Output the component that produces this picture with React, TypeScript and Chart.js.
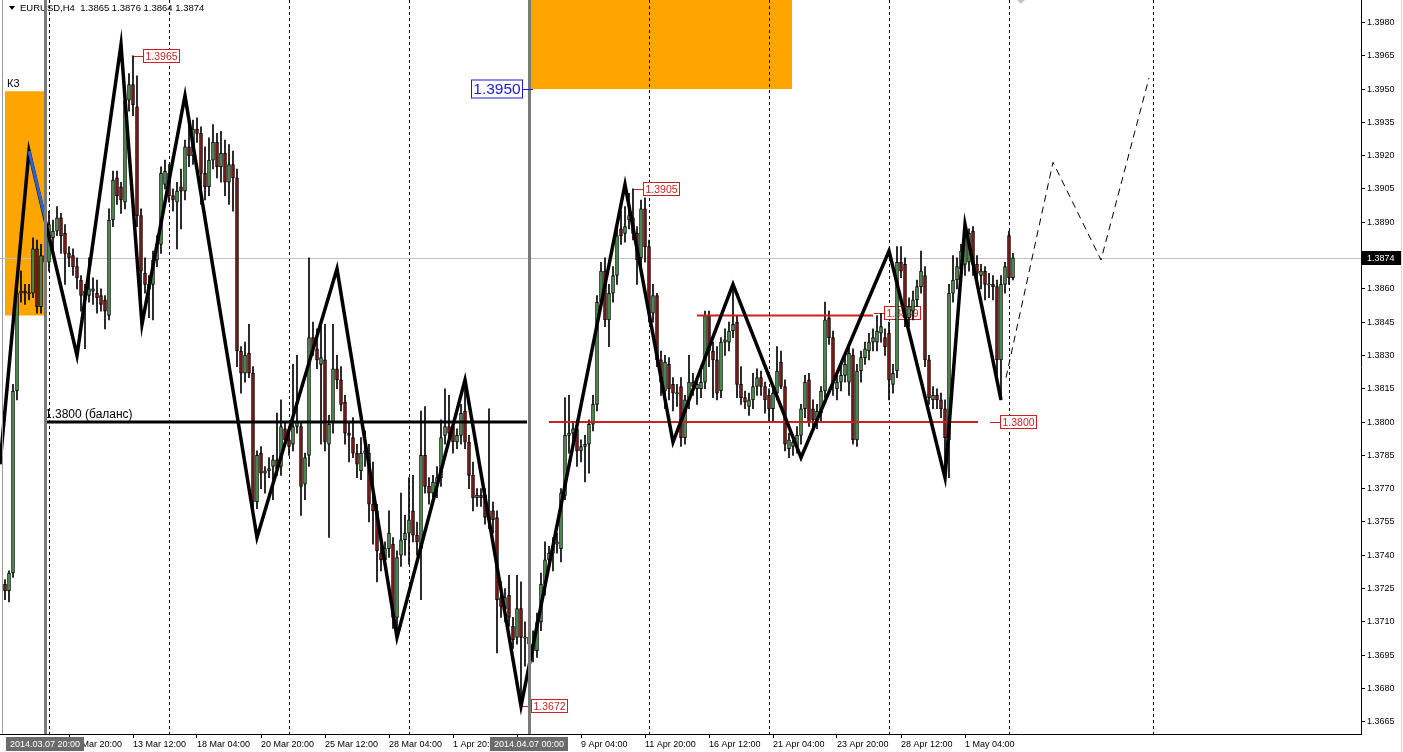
import React, { useEffect, useRef } from "react";
import { Chart, registerables } from "chart.js";
Chart.register(...registerables);

// ---------- DATA ----------
const symbolTitle = "EURUSD,H4";

// OHLC of the H4 bars (bar index 0 = first visible bar; 10 = 2014.03.07 20:00, 131 = 2014.04.07 00:00)
const opens = [
  1.3727, 1.3724, 1.3732, 1.3814, 1.3858, 1.3859, 1.3858, 1.3858, 1.3878, 1.3852,
  1.3875, 1.3872, 1.3883, 1.3886, 1.3892, 1.3885, 1.3876, 1.3875, 1.387, 1.3864,
  1.3856, 1.3857, 1.3859, 1.3858, 1.3857, 1.3855, 1.3848, 1.3891, 1.391, 1.3906,
  1.3899, 1.3945, 1.3952, 1.3942, 1.3893, 1.3867, 1.3862, 1.3862, 1.3873, 1.388,
  1.3907, 1.3912, 1.3902, 1.3899, 1.3906, 1.3904, 1.3924, 1.392, 1.3932, 1.393,
  1.3912, 1.3906, 1.3918, 1.3926, 1.3915, 1.3921, 1.3908, 1.3916, 1.391, 1.3832,
  1.3822, 1.3831, 1.3822, 1.3764, 1.3786, 1.3777, 1.3778, 1.378, 1.3783, 1.378,
  1.3797, 1.3792, 1.379, 1.3798, 1.3798, 1.3772, 1.3785, 1.3838, 1.3833, 1.3826,
  1.3828, 1.379, 1.38, 1.3824, 1.3819, 1.3809, 1.3795, 1.3793, 1.3786, 1.3778,
  1.3786, 1.3786, 1.3763, 1.376, 1.3741, 1.3738, 1.3743, 1.3745, 1.3712, 1.374,
  1.3747, 1.375, 1.376, 1.3749, 1.3743, 1.3785, 1.3771, 1.3768, 1.3772, 1.3775,
  1.3794, 1.3798, 1.3798, 1.3791, 1.3794, 1.3805, 1.3791, 1.3776, 1.3766, 1.3767,
  1.3767, 1.3756, 1.376, 1.3757, 1.3721, 1.3716, 1.3722, 1.3708, 1.3703, 1.3716,
  1.3703, 1.3703, 1.37, 1.3697, 1.371, 1.3727, 1.3738, 1.3741, 1.3745, 1.3743,
  1.3767, 1.3794, 1.3795, 1.3797, 1.3787, 1.3789, 1.379, 1.3799, 1.3808, 1.3854,
  1.3868, 1.3846, 1.3858, 1.3866, 1.3887, 1.3885, 1.3891, 1.3892, 1.3885, 1.3874,
  1.3896, 1.3879, 1.3849, 1.3857, 1.3828, 1.3814, 1.3826, 1.3817, 1.3813, 1.3816,
  1.3793, 1.381, 1.3818, 1.3815, 1.3815, 1.3818, 1.3848, 1.3832, 1.3828, 1.3814,
  1.3836, 1.3836, 1.3841, 1.3845, 1.3817, 1.3811, 1.3807, 1.381, 1.3816, 1.382,
  1.3816, 1.3812, 1.3806, 1.3813, 1.3827, 1.3816, 1.3788, 1.3789, 1.3789, 1.3794,
  1.3806, 1.3819, 1.3806, 1.3801, 1.3804, 1.3814, 1.3847, 1.3838, 1.3815, 1.3818,
  1.3821, 1.3818, 1.383, 1.3792, 1.3823, 1.3829, 1.3832, 1.3836, 1.3836, 1.384,
  1.3838, 1.384, 1.3817, 1.3823, 1.3872, 1.3871, 1.3847, 1.385, 1.3855, 1.3861,
  1.3866, 1.3828, 1.381, 1.3812, 1.381, 1.3806, 1.3792, 1.3858, 1.3864, 1.3869,
  1.3871, 1.3872, 1.3886, 1.3871, 1.3866, 1.3868, 1.3862, 1.3862, 1.3861, 1.3828,
  1.3862, 1.3884, 1.3865,
];
const highs = [
  1.3729, 1.3733, 1.3817, 1.386, 1.3868, 1.3862, 1.3862, 1.3883, 1.3882, 1.388,
  1.3885, 1.3895, 1.3891, 1.3897, 1.3894, 1.3889, 1.3879, 1.3878, 1.3874, 1.3866,
  1.3862, 1.3874, 1.3865, 1.3864, 1.386, 1.3857, 1.3896, 1.3913, 1.3913, 1.3908,
  1.395, 1.3957, 1.3965, 1.3956, 1.3896, 1.3874, 1.3866, 1.3877, 1.3884, 1.3915,
  1.3918, 1.3916, 1.3905, 1.3908, 1.3914, 1.3927, 1.3935, 1.3936, 1.3937, 1.3933,
  1.3924, 1.3928, 1.3934, 1.393, 1.3931, 1.3927, 1.3925, 1.3922, 1.3914, 1.3834,
  1.3836, 1.3844, 1.3825, 1.3787, 1.3789, 1.378, 1.3784, 1.3785, 1.3804, 1.381,
  1.38, 1.3797, 1.3826, 1.383, 1.38, 1.3786, 1.3874, 1.3845, 1.3842, 1.3846,
  1.3844, 1.3803, 1.3844, 1.383, 1.3825, 1.3812, 1.38, 1.3802, 1.379, 1.3793,
  1.3796, 1.379, 1.3782, 1.3763, 1.3745, 1.3746, 1.376, 1.3748, 1.3742, 1.3768,
  1.3758, 1.3775, 1.3776, 1.3755, 1.3805, 1.3807, 1.3775, 1.3776, 1.378, 1.3801,
  1.3815, 1.3812, 1.38, 1.3797, 1.3808, 1.3818, 1.3794, 1.3782, 1.377, 1.377,
  1.377, 1.3806, 1.3764, 1.376, 1.3728, 1.3725, 1.3731, 1.3712, 1.3731, 1.3728,
  1.371, 1.3712, 1.3706, 1.3714, 1.3732, 1.3746, 1.3744, 1.3748, 1.375, 1.377,
  1.3811, 1.3812, 1.38, 1.3801, 1.3792, 1.3794, 1.3801, 1.3812, 1.3857, 1.3872,
  1.3874, 1.3862, 1.387, 1.3887, 1.3895, 1.3897, 1.3903, 1.3905, 1.3888, 1.39,
  1.3901, 1.3882, 1.3862, 1.3858, 1.3832, 1.383, 1.3829, 1.382, 1.3817, 1.382,
  1.3812, 1.383, 1.3822, 1.382, 1.3823, 1.385, 1.385, 1.3836, 1.3834, 1.3838,
  1.3842, 1.3845, 1.3861, 1.3848, 1.3825, 1.3814, 1.3813, 1.3822, 1.3824, 1.3823,
  1.3818, 1.3815, 1.3816, 1.3834, 1.3832, 1.3819, 1.3795, 1.3794, 1.3798, 1.3808,
  1.3821, 1.3822, 1.381, 1.3808, 1.3816, 1.3854, 1.385, 1.3841, 1.3822, 1.3826,
  1.383, 1.3835, 1.3833, 1.3826, 1.3832, 1.3836, 1.384, 1.3842, 1.3848, 1.3849,
  1.3842, 1.3845, 1.3826, 1.3879, 1.3879, 1.3874, 1.3856, 1.3859, 1.3864, 1.3877,
  1.387, 1.383, 1.3816, 1.3815, 1.3813, 1.381, 1.3862, 1.3875, 1.3874, 1.388,
  1.3889, 1.3887, 1.3888, 1.3875, 1.3871, 1.387, 1.3867, 1.3866, 1.3864, 1.3866,
  1.3872, 1.3886, 1.3876,
];
const lows = [
  1.372, 1.3719, 1.373, 1.381, 1.3854, 1.3853, 1.3855, 1.3856, 1.3849, 1.3849,
  1.3865, 1.3868, 1.3876, 1.3884, 1.3876, 1.3862, 1.387, 1.3866, 1.386, 1.385,
  1.3833, 1.3854, 1.3853, 1.3849, 1.385, 1.3842, 1.3846, 1.3888, 1.3898, 1.3894,
  1.3896, 1.394, 1.3938, 1.3888, 1.385, 1.3858, 1.3847, 1.3846, 1.387, 1.3876,
  1.3905, 1.3899, 1.3895, 1.3878, 1.3887, 1.39, 1.3915, 1.3916, 1.3926, 1.3898,
  1.39, 1.3902, 1.3914, 1.391, 1.3908, 1.3902, 1.3898, 1.3895, 1.3825, 1.3813,
  1.3818, 1.382, 1.3762, 1.3761, 1.377, 1.3768, 1.3775, 1.3765, 1.3776, 1.3776,
  1.3789, 1.3785, 1.3787, 1.3795, 1.3758, 1.3765, 1.378, 1.383, 1.3824, 1.379,
  1.3787, 1.3748, 1.3795, 1.3815, 1.3805, 1.379, 1.3782, 1.3784, 1.3775, 1.3774,
  1.378, 1.3755, 1.3745, 1.3728, 1.3733, 1.3735, 1.3739, 1.3707, 1.3703, 1.3735,
  1.374, 1.3736, 1.3746, 1.374, 1.372, 1.3768, 1.3763, 1.3764, 1.3766, 1.3771,
  1.379, 1.3793, 1.3786, 1.3788, 1.379, 1.3788, 1.377, 1.376, 1.3762, 1.3762,
  1.3754, 1.3752, 1.375, 1.3696, 1.3712, 1.371, 1.3708, 1.3698, 1.37, 1.3672,
  1.369, 1.3694, 1.3692, 1.3694, 1.3706, 1.3722, 1.3735, 1.3733, 1.3741, 1.3737,
  1.3765, 1.3786, 1.379, 1.378, 1.3782, 1.3773, 1.3777, 1.3796, 1.3805, 1.3851,
  1.3843, 1.3834, 1.3854, 1.3862, 1.388, 1.3881, 1.3887, 1.3882, 1.3862, 1.387,
  1.3872, 1.3845, 1.3845, 1.3825, 1.3812, 1.3806, 1.381, 1.3805, 1.3807, 1.3789,
  1.379, 1.3806, 1.3812, 1.3808, 1.3811, 1.3815, 1.3825, 1.3811, 1.381, 1.3811,
  1.383, 1.3832, 1.3838, 1.3811, 1.3808, 1.3806, 1.3803, 1.3806, 1.3812, 1.3812,
  1.3804, 1.38, 1.38, 1.381, 1.3815, 1.3787, 1.3784, 1.3785, 1.3786, 1.379,
  1.3802, 1.3798, 1.3797, 1.3797, 1.38, 1.3811, 1.3835, 1.3812, 1.381, 1.3814,
  1.3818, 1.3812, 1.379, 1.3789, 1.3818, 1.3826, 1.3828, 1.3832, 1.3832, 1.3836,
  1.383, 1.381, 1.3813, 1.382, 1.3865, 1.3843, 1.3843, 1.3846, 1.3852, 1.3858,
  1.3825, 1.3808, 1.3806, 1.3806, 1.3802, 1.3775, 1.3775, 1.3854, 1.386, 1.3864,
  1.3866, 1.3868, 1.3866, 1.3863, 1.386, 1.3855, 1.3856, 1.3855, 1.3818, 1.381,
  1.3858, 1.3862, 1.3864,
];
const closes = [
  1.3724, 1.3732, 1.3814, 1.3858, 1.3859, 1.3858, 1.3858, 1.3878, 1.3852, 1.3875,
  1.3872, 1.3889, 1.3886, 1.3892, 1.3884, 1.3876, 1.3874, 1.387, 1.3865, 1.3857,
  1.3859, 1.386, 1.386, 1.3856, 1.3853, 1.385, 1.3891, 1.3909, 1.3902, 1.39,
  1.3945, 1.3952, 1.3943, 1.3893, 1.3868, 1.3862, 1.386, 1.3873, 1.388, 1.3912,
  1.3913, 1.3902, 1.39, 1.3904, 1.3904, 1.3924, 1.392, 1.3932, 1.393, 1.3912,
  1.3906, 1.3918, 1.3926, 1.3915, 1.3921, 1.3908, 1.3916, 1.391, 1.3832, 1.3822,
  1.383, 1.3822, 1.3764, 1.3785, 1.3777, 1.3778, 1.3779, 1.3783, 1.3779, 1.3798,
  1.3792, 1.3789, 1.3798, 1.38, 1.3771, 1.3784, 1.3838, 1.3833, 1.3828, 1.3829,
  1.3791, 1.3799, 1.3824, 1.3819, 1.3808, 1.3795, 1.3794, 1.3786, 1.3781, 1.3786,
  1.3787, 1.3763, 1.376, 1.3742, 1.3738, 1.3743, 1.375, 1.3712, 1.3739, 1.3747,
  1.375, 1.3756, 1.3749, 1.3746, 1.3785, 1.3771, 1.3768, 1.3773, 1.3775, 1.3793,
  1.3798, 1.3795, 1.3791, 1.3794, 1.3804, 1.3791, 1.3776, 1.3766, 1.3767, 1.3766,
  1.3757, 1.376, 1.3756, 1.372, 1.3717, 1.3721, 1.3712, 1.3702, 1.3716, 1.3703,
  1.3703, 1.37, 1.3697, 1.371, 1.3727, 1.3738, 1.3741, 1.3744, 1.3746, 1.3768,
  1.3794, 1.3795, 1.3797, 1.3787, 1.3789, 1.379, 1.3799, 1.3808, 1.3854, 1.3868,
  1.3846, 1.3858, 1.3866, 1.3884, 1.3884, 1.3888, 1.3893, 1.3885, 1.3873, 1.3896,
  1.3879, 1.3849, 1.3857, 1.3828, 1.3818, 1.3827, 1.3815, 1.3813, 1.3813, 1.3793,
  1.381, 1.3818, 1.3816, 1.3817, 1.3818, 1.3848, 1.3832, 1.3828, 1.3813, 1.3836,
  1.3837, 1.3841, 1.3844, 1.3817, 1.3811, 1.3809, 1.381, 1.3816, 1.382, 1.3816,
  1.381, 1.3806, 1.3813, 1.3823, 1.3816, 1.379, 1.3792, 1.3791, 1.3794, 1.3806,
  1.3818, 1.38, 1.3801, 1.3805, 1.3814, 1.3846, 1.3838, 1.3818, 1.3818, 1.3821,
  1.3826, 1.3831, 1.3792, 1.3823, 1.3829, 1.3833, 1.3836, 1.3838, 1.3841, 1.3843,
  1.3834, 1.3819, 1.3822, 1.3872, 1.3868, 1.3847, 1.3852, 1.3855, 1.3861, 1.3868,
  1.3828, 1.3811, 1.3812, 1.381, 1.3806, 1.3793, 1.3858, 1.3864, 1.387, 1.3877,
  1.3885, 1.3885, 1.3871, 1.3867, 1.3868, 1.3862, 1.3862, 1.3861, 1.3828, 1.3862,
  1.387, 1.3865, 1.3874,
];

// Time axis (bar index -> label)
const xTickIdx = [16, 32, 48, 64, 80, 96, 112, 128, 144, 160, 176, 192, 208, 224, 240];
const xTickLabels = [
  "10 Mar 20:00", "13 Mar 12:00", "18 Mar 04:00", "20 Mar 20:00", "25 Mar 12:00",
  "28 Mar 04:00", "1 Apr 20:00", "4 Apr 12:00", "9 Apr 04:00", "11 Apr 20:00",
  "16 Apr 12:00", "21 Apr 04:00", "23 Apr 20:00", "28 Apr 12:00", "1 May 04:00",
];
const weekGridIdx = [11, 41, 71, 101, 131, 161, 191, 221, 251, 287];
const yTickList = [
  1.3665, 1.368, 1.3695, 1.371, 1.3725, 1.374, 1.3755, 1.377, 1.3785, 1.38, 1.3815,
  1.383, 1.3845, 1.386, 1.389, 1.3905, 1.392, 1.3935, 1.395, 1.3965, 1.398,
];
const priceMin = 1.36595;
const priceMax = 1.39901;
const barMin = -1.25;
const barMax = 339;

// Drawn objects
const zigzagPts: [number, number][] = [
  [-1.25, 1.3781], [6, 1.3922], [18, 1.383], [29, 1.397], [34.25, 1.3844], [45, 1.3947],
  [63, 1.3748], [83, 1.3869], [98, 1.3703], [115, 1.3819], [129, 1.3672], [155, 1.3907],
  [167, 1.3791], [182, 1.3862], [199, 1.3784], [221, 1.3877], [235, 1.3775], [240, 1.3889],
  [249, 1.381],
];
const blueSegment: [number, number][] = [[6, 1.3922], [10, 1.3892]];
const projection: [number, number][] = [[250.25, 1.382], [262, 1.3917], [274, 1.3873], [286, 1.3955]];
const balanceLine: [number, number][] = [[10, 1.38], [130.5, 1.38]];
const redLow: [number, number][] = [[136, 1.38], [243.25, 1.38]];
const redHigh: [number, number][] = [[173, 1.3848], [217, 1.3848]];
const orangeZones = [
  { x0: 0, x1: 10, yTop: 1.3949, yBot: 1.3848 },
  { x0: 131.5, x1: 196.75, yTop: 1.401, yBot: 1.395 },
];
const vLines = [
  { idx: 10, label: "2014.03.07 20:00" },
  { idx: 131, label: "2014.04.07 00:00" },
];
const priceTags = [
  { idx: 32, price: 1.3965 },
  { idx: 157, price: 1.3905 },
  { idx: 129, price: 1.3672 },
  { idx: 217.25, price: 1.3849 },
  { idx: 246.25, price: 1.38 },
];
const blueTag = { idx: 131.5, price: 1.395 };
const balanceText = { idx: 10, price: 1.38, text: "1.3800 (баланс)" };
const zoneText = { idx: 0.5, price: 1.3949, text: "К3" };
const bidPrice = closes[closes.length - 1];
const arrowMark = { idx: 254, price: 1.3991 };

// ---------- STYLE ----------
const FONT = "'Liberation Sans', Arial, sans-serif";
const BULL = "#5b9e5b";
const BEAR = "#8e1b1b";
const RED = "#cc1f1f";

const mt4Plugin = {
  id: "mt4Objects",
  beforeDraw(chart: any) {
    const { ctx, width, height } = chart;
    ctx.save();
    ctx.fillStyle = "#ffffff";
    ctx.fillRect(0, 0, width, height);
    ctx.restore();
  },
  beforeDatasetsDraw(chart: any) {
    const { ctx, chartArea, scales } = chart;
    const xs = scales.x, ys = scales.y;
    const { left, right, top, bottom } = chartArea;
    ctx.save();
    ctx.beginPath();
    ctx.rect(left, top, right - left, bottom - top);
    ctx.clip();
    // orange zones
    ctx.fillStyle = "#ffa500";
    orangeZones.forEach((z) => {
      const x0 = xs.getPixelForValue(z.x0), x1 = xs.getPixelForValue(z.x1);
      const y0 = ys.getPixelForValue(z.yTop), y1 = ys.getPixelForValue(z.yBot);
      ctx.fillRect(x0, y0, x1 - x0, y1 - y0);
    });
    // weekly dashed grid
    ctx.strokeStyle = "#000";
    ctx.lineWidth = 1;
    ctx.setLineDash([3, 3]);
    weekGridIdx.forEach((i) => {
      const x = Math.round(xs.getPixelForValue(i)) + 0.5;
      ctx.beginPath();
      ctx.moveTo(x, top);
      ctx.lineTo(x, bottom);
      ctx.stroke();
    });
    ctx.setLineDash([]);
    // bid line
    const by = Math.round(ys.getPixelForValue(bidPrice)) + 0.5;
    ctx.strokeStyle = "#c0c0c0";
    ctx.beginPath();
    ctx.moveTo(left, by);
    ctx.lineTo(right, by);
    ctx.stroke();
    // header
    ctx.fillStyle = "#000";
    ctx.beginPath();
    ctx.moveTo(9, 6);
    ctx.lineTo(15, 6);
    ctx.lineTo(12, 10);
    ctx.closePath();
    ctx.fill();
    ctx.font = `9.5px ${FONT}`;
    ctx.textBaseline = "alphabetic";
    ctx.textAlign = "left";
    const last = closes.length - 1;
    ctx.fillText(
      `${symbolTitle}  ${opens[last].toFixed(4)} ${highs[last].toFixed(4)} ${lows[last].toFixed(4)} ${closes[last].toFixed(4)}`,
      20, 11
    );
    // zone text
    ctx.font = `11px ${FONT}`;
    ctx.fillText(zoneText.text, xs.getPixelForValue(zoneText.idx), ys.getPixelForValue(zoneText.price) - 4);
    // balance text
    ctx.font = `12px ${FONT}`;
    ctx.fillText(balanceText.text, xs.getPixelForValue(balanceText.idx), ys.getPixelForValue(balanceText.price) - 4);
    // red price tags
    ctx.font = `10.5px ${FONT}`;
    priceTags.forEach((t) => {
      const px = Math.round(xs.getPixelForValue(t.idx));
      const py = Math.round(ys.getPixelForValue(t.price));
      const gap = 10, bw = 37, bh = 14;
      ctx.strokeStyle = RED;
      ctx.lineWidth = 1;
      ctx.beginPath();
      ctx.moveTo(px, py + 0.5);
      ctx.lineTo(px + gap, py + 0.5);
      ctx.stroke();
      ctx.fillStyle = "#fff";
      ctx.fillRect(px + gap, py - bh / 2, bw, bh);
      ctx.strokeRect(px + gap + 0.5, py - bh / 2 + 0.5, bw - 1, bh - 1);
      ctx.fillStyle = RED;
      ctx.textAlign = "center";
      ctx.textBaseline = "middle";
      ctx.fillText(t.price.toFixed(4), px + gap + bw / 2, py + 1);
    });
    ctx.restore();
  },
  afterDatasetsDraw(chart: any) {
    const { ctx, chartArea, scales } = chart;
    const xs = scales.x;
    ctx.save();
    ctx.strokeStyle = "#7a7a7a";
    ctx.lineWidth = 3;
    vLines.forEach((v) => {
      const x = Math.round(xs.getPixelForValue(v.idx)) + 0.5;
      ctx.beginPath();
      ctx.moveTo(x, chartArea.top);
      ctx.lineTo(x, chartArea.bottom);
      ctx.stroke();
    });
    ctx.restore();
  },
  afterDraw(chart: any) {
    const { ctx, chartArea, scales, width } = chart;
    const xs = scales.x, ys = scales.y;
    ctx.save();
    // window frame lines
    ctx.strokeStyle = "#9a9a9a";
    ctx.lineWidth = 1;
    ctx.beginPath();
    ctx.moveTo(2.5, 0);
    ctx.lineTo(2.5, chartArea.bottom);
    ctx.stroke();
    ctx.strokeStyle = "#d8d8d8";
    ctx.beginPath();
    ctx.moveTo(width - 1.5, 0);
    ctx.lineTo(width - 1.5, chart.height);
    ctx.stroke();
    // blue tag
    {
      const px = Math.round(xs.getPixelForValue(blueTag.idx));
      const py = Math.round(ys.getPixelForValue(blueTag.price));
      const bw = 52, bh = 19, gap = 8;
      ctx.strokeStyle = "#1a1ac8";
      ctx.lineWidth = 1;
      ctx.beginPath();
      ctx.moveTo(px - gap, py + 0.5);
      ctx.lineTo(px + 2, py + 0.5);
      ctx.stroke();
      ctx.fillStyle = "#fff";
      ctx.fillRect(px - gap - bw, py - bh / 2, bw, bh);
      ctx.strokeRect(px - gap - bw + 0.5, py - bh / 2 + 0.5, bw - 1, bh - 1);
      ctx.fillStyle = "#1a1ac8";
      ctx.font = `15.5px ${FONT}`;
      ctx.textAlign = "center";
      ctx.textBaseline = "middle";
      ctx.fillText(blueTag.price.toFixed(4), px - gap - bw / 2, py + 1);
    }
    // arrow mark (grey diamond)
    {
      const ax = xs.getPixelForValue(arrowMark.idx), ay = ys.getPixelForValue(arrowMark.price);
      ctx.fillStyle = "#c4c4c4";
      ctx.beginPath();
      ctx.moveTo(ax, ay - 6);
      ctx.lineTo(ax + 6, ay);
      ctx.lineTo(ax, ay + 6);
      ctx.lineTo(ax - 6, ay);
      ctx.closePath();
      ctx.fill();
    }
    // bid box on price axis
    {
      const py = Math.round(ys.getPixelForValue(bidPrice));
      ctx.fillStyle = "#000";
      ctx.fillRect(chartArea.right + 1, py - 7, 39, 14);
      ctx.fillStyle = "#fff";
      ctx.font = `9px ${FONT}`;
      ctx.textAlign = "left";
      ctx.textBaseline = "middle";
      ctx.fillText(bidPrice.toFixed(4), chartArea.right + 6, py + 0.5);
    }
    // date boxes on time axis
    vLines.forEach((v) => {
      const x = xs.getPixelForValue(v.idx);
      const bw = 78;
      ctx.fillStyle = "#6b6b6b";
      ctx.fillRect(x - bw / 2, chartArea.bottom + 3, bw, 14);
      ctx.fillStyle = "#fff";
      ctx.font = `9px ${FONT}`;
      ctx.textAlign = "center";
      ctx.textBaseline = "middle";
      ctx.fillText(v.label, x, chartArea.bottom + 10.5);
    });
    ctx.restore();
  },
};

export default function App() {
  const ref = useRef<HTMLCanvasElement | null>(null);
  useEffect(() => {
    if (!ref.current) return;
    const pts = (a: [number, number][]) => a.map(([x, y]) => ({ x, y }));
    const bodies = closes.map((c, i) => {
      const o = opens[i];
      const lo = Math.min(o, c), hi = Math.max(o, c);
      const pad = hi - lo < 0.00005 ? 0.00003 : 0;
      return { x: i, y: [lo - pad, hi + pad] };
    });
    const lineDs = (label: string, data: [number, number][], color: string, w: number, order: number, dash: number[] = []) => ({
      type: "line" as const,
      label,
      data: pts(data),
      borderColor: color,
      borderWidth: w,
      borderDash: dash,
      pointRadius: 0,
      pointHoverRadius: 0,
      tension: 0,
      fill: false,
      order,
    });
    const chart = new Chart(ref.current, {
      type: "bar",
      data: {
        datasets: [
          lineDs("blue", blueSegment, "#2a62d8", 3, 1) as any,
          lineDs("zigzag", zigzagPts, "#000", 3.5, 2) as any,
          lineDs("projection", projection, "#000", 1, 2, [7, 5]) as any,
          lineDs("balance", balanceLine, "#000", 3, 3) as any,
          lineDs("level1", redLow, RED, 2, 3) as any,
          lineDs("level2", redHigh, RED, 2, 3) as any,
          {
            type: "bar",
            label: "bodies",
            data: bodies as any,
            backgroundColor: closes.map((c, i) => (c >= opens[i] ? BULL : BEAR)),
            borderColor: "#000",
            borderWidth: 1,
            borderSkipped: false,
            barThickness: 3,
            grouped: false,
            order: 4,
          } as any,
          {
            type: "bar",
            label: "wicks",
            data: highs.map((h, i) => ({ x: i, y: [lows[i], h] })) as any,
            backgroundColor: "#000",
            borderWidth: 0,
            barThickness: 1,
            grouped: false,
            order: 5,
          } as any,
        ],
      },
      options: {
        responsive: false,
        maintainAspectRatio: false,
        animation: false,
        devicePixelRatio: 1,
        events: [],
        layout: { padding: 0 },
        plugins: { legend: { display: false }, tooltip: { enabled: false }, title: { display: false } },
        scales: {
          x: {
            type: "linear",
            min: barMin,
            max: barMax,
            offset: false,
            afterBuildTicks: (s: any) => {
              s.ticks = xTickIdx.map((v) => ({ value: v }));
            },
            afterFit: (s: any) => {
              s.height = 18;
              s.paddingLeft = 0;
              s.paddingRight = 0;
            },
            ticks: {
              autoSkip: false,
              maxRotation: 0,
              minRotation: 0,
              align: "start",
              padding: 1,
              color: "#000",
              font: { family: FONT, size: 9 },
              callback: (v: any) => {
                const k = xTickIdx.indexOf(Number(v));
                return k >= 0 ? xTickLabels[k] : "";
              },
            },
            grid: { drawOnChartArea: false, drawTicks: true, tickLength: 4, color: "#000", offset: false },
            border: { display: true, color: "#000", width: 1 },
          },
          y: {
            type: "linear",
            position: "right",
            min: priceMin,
            max: priceMax,
            afterBuildTicks: (s: any) => {
              s.ticks = yTickList.map((v) => ({ value: v }));
            },
            afterFit: (s: any) => {
              s.width = 42;
              s.paddingTop = 0;
              s.paddingBottom = 0;
            },
            ticks: {
              autoSkip: false,
              padding: 2,
              color: "#000",
              font: { family: FONT, size: 9 },
              callback: (v: any) => Number(v).toFixed(4),
            },
            grid: { drawOnChartArea: false, drawTicks: true, tickLength: 4, color: "#000" },
            border: { display: true, color: "#000", width: 1 },
          },
        },
      } as any,
      plugins: [mt4Plugin],
    });
    return () => chart.destroy();
  }, []);
  return (
    <div style={{ position: "fixed", left: 0, top: 0, width: 1403, height: 752, background: "#fff" }}>
      <canvas ref={ref} width={1403} height={752} style={{ display: "block" }} />
    </div>
  );
}
